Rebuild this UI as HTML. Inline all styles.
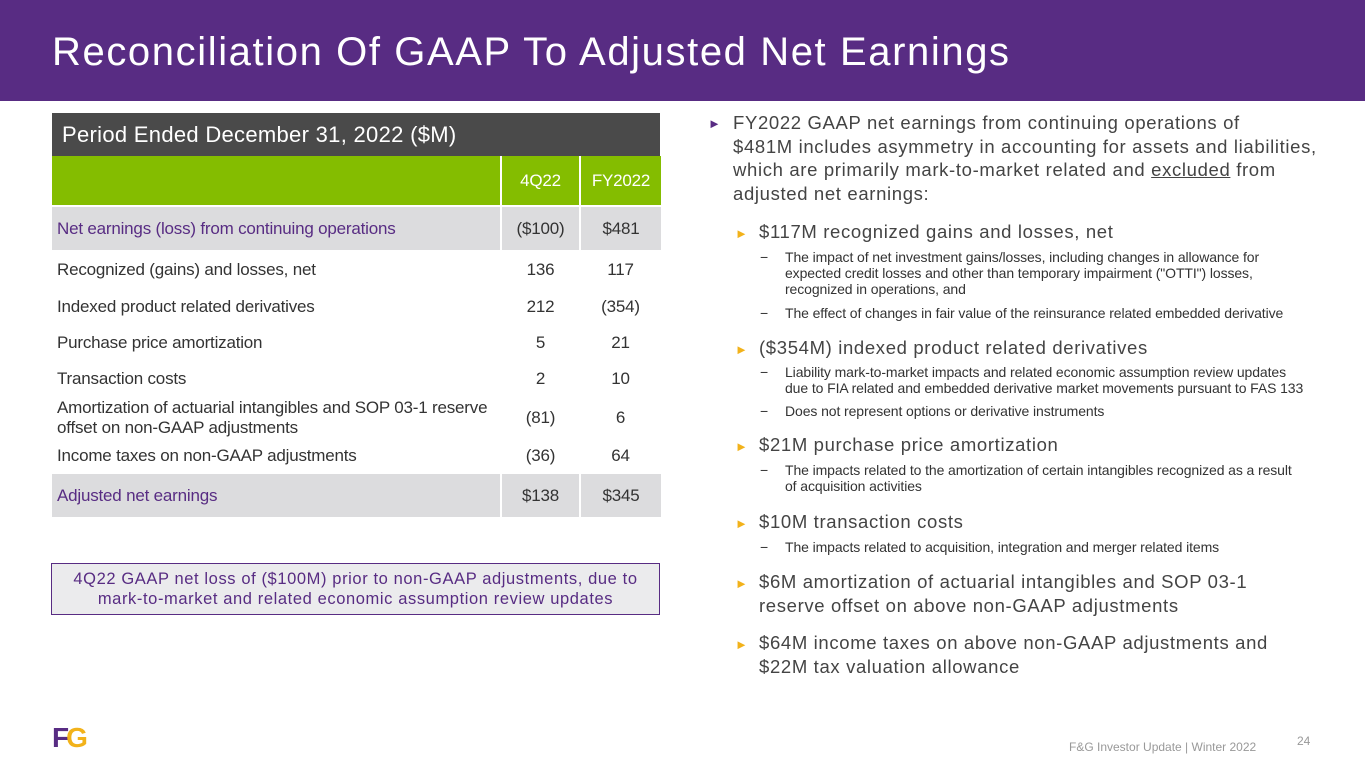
<!DOCTYPE html>
<html><head><meta charset="utf-8"><style>
body{margin:0;width:1365px;height:768px;position:relative;overflow:hidden;background:#fff;font-family:"Liberation Sans",sans-serif}
.a{position:absolute;white-space:nowrap}
.hdr{left:0;top:0;width:1365px;height:101px;background:#582c83}
td{padding:0;font-size:17px;color:#333;letter-spacing:-0.2px}
.b{font-size:18.5px;color:#444;letter-spacing:0.65px}
.s{font-size:14px;color:#333;letter-spacing:-0.1px}
.tri{color:#f2b21a;font-size:13px}
</style></head><body>
<div class="a hdr"></div>
<div class="a" style="left:52px;top:30px;font-size:40px;color:#fff;letter-spacing:1.6px">Reconciliation Of GAAP To Adjusted Net Earnings</div>

<div class="a" style="left:52px;top:113px;width:608px;height:43px;background:#4a4a4a;color:#fff;font-size:22px;line-height:43px;padding-left:10px;box-sizing:border-box;letter-spacing:0.3px">Period Ended December 31, 2022 ($M)</div>
<table class="a" style="left:52px;top:156px;width:609px;border-collapse:collapse">
<tr style="height:50px;background:#84bd00;color:#fff"><td style="border-right:2px solid #fff"></td><td style="width:77px;text-align:center;color:#fff;border-right:2px solid #fff">4Q22</td><td style="width:80px;text-align:center;color:#fff">FY2022</td></tr>
<tr style="height:44px;background:#dcdcde;border-top:2px solid #fff"><td style="padding-left:5px;color:#582c83;border-right:2px solid #fff">Net earnings (loss) from continuing operations</td><td style="text-align:center;border-right:2px solid #fff">($100)</td><td style="text-align:center">$481</td></tr>
<tr style="height:40px"><td style="padding-left:5px">Recognized (gains) and losses, net</td><td style="text-align:center">136</td><td style="text-align:center">117</td></tr>
<tr style="height:34px"><td style="padding-left:5px">Indexed product related derivatives</td><td style="text-align:center">212</td><td style="text-align:center">(354)</td></tr>
<tr style="height:37px"><td style="padding-left:5px">Purchase price amortization</td><td style="text-align:center">5</td><td style="text-align:center">21</td></tr>
<tr style="height:36px"><td style="padding-left:5px">Transaction costs</td><td style="text-align:center">2</td><td style="text-align:center">10</td></tr>
<tr style="height:42px"><td style="padding-left:5px;line-height:20px">Amortization of actuarial intangibles and SOP 03-1 reserve<br>offset on non-GAAP adjustments</td><td style="text-align:center">(81)</td><td style="text-align:center">6</td></tr>
<tr style="height:34px"><td style="padding-left:5px">Income taxes on non-GAAP adjustments</td><td style="text-align:center">(36)</td><td style="text-align:center">64</td></tr>
<tr style="height:44px;background:#dcdcde;border-top:2px solid #fff"><td style="padding-left:5px;color:#582c83;border-right:2px solid #fff">Adjusted net earnings</td><td style="text-align:center;border-right:2px solid #fff">$138</td><td style="text-align:center">$345</td></tr>
</table>
<div class="a" style="left:51px;top:563px;width:609px;height:52px;box-sizing:border-box;border:1px solid #582c83;background:#ebebed;color:#582c83;font-size:16.5px;text-align:center;line-height:20px;padding-top:5px;letter-spacing:0.6px">4Q22 GAAP net loss of ($100M) prior to non-GAAP adjustments, due to<br>mark-to-market and related economic assumption review updates</div>

<div>
<div class="a" style="left:708px;top:116px;color:#582c83;font-size:13px">►</div>
<div class="a b" style="left:733px;top:111px;line-height:23.5px">FY2022 GAAP net earnings from continuing operations of<br>$481M includes asymmetry in accounting for assets and liabilities,<br>which are primarily mark-to-market related and <u>excluded</u> from<br>adjusted net earnings:</div>
<div class="a tri" style="left:735px;top:226px">►</div>
<div class="a b" style="left:759px;top:221px">$117M recognized gains and losses, net</div>
<div class="a s" style="left:760px;top:249px">−</div>
<div class="a s" style="left:785px;top:249px;line-height:16px">The impact of net investment gains/losses, including changes in allowance for<br>expected credit losses and other than temporary impairment ("OTTI") losses,<br>recognized in operations, and</div>
<div class="a s" style="left:760px;top:305px">−</div>
<div class="a s" style="left:785px;top:305px">The effect of changes in fair value of the reinsurance related embedded derivative</div>
<div class="a tri" style="left:735px;top:342px">►</div>
<div class="a b" style="left:759px;top:337px">($354M) indexed product related derivatives</div>
<div class="a s" style="left:760px;top:364px">−</div>
<div class="a s" style="left:785px;top:364px;line-height:16px">Liability mark-to-market impacts and related economic assumption review updates<br>due to FIA related and embedded derivative market movements pursuant to FAS 133</div>
<div class="a s" style="left:760px;top:403px">−</div>
<div class="a s" style="left:785px;top:403px">Does not represent options or derivative instruments</div>
<div class="a tri" style="left:735px;top:439px">►</div>
<div class="a b" style="left:759px;top:434px">$21M purchase price amortization</div>
<div class="a s" style="left:760px;top:462px">−</div>
<div class="a s" style="left:785px;top:462px;line-height:16px">The impacts related to the amortization of certain intangibles recognized as a result<br>of acquisition activities</div>
<div class="a tri" style="left:735px;top:516px">►</div>
<div class="a b" style="left:759px;top:511px">$10M transaction costs</div>
<div class="a s" style="left:760px;top:539px">−</div>
<div class="a s" style="left:785px;top:539px">The impacts related to acquisition, integration and merger related items</div>
<div class="a tri" style="left:735px;top:576px">►</div>
<div class="a b" style="left:759px;top:570px;line-height:24px">$6M amortization of actuarial intangibles and SOP 03-1<br>reserve offset on above non-GAAP adjustments</div>
<div class="a tri" style="left:735px;top:637px">►</div>
<div class="a b" style="left:759px;top:631px;line-height:24px">$64M income taxes on above non-GAAP adjustments and<br>$22M tax valuation allowance</div>
</div>

<div class="a" style="left:52px;top:724px;width:40px;height:28px">
<div class="a" style="left:0;top:0;font-size:28px;font-weight:bold;color:#582c83;line-height:28px;letter-spacing:-3px">F<span style="color:#f2b21a">G</span></div></div>
<div class="a" style="left:1069px;top:740px;font-size:12px;color:#999">F&amp;G Investor Update | Winter 2022</div>
<div class="a" style="left:1297px;top:734px;font-size:12px;color:#999">24</div>
</body></html>
